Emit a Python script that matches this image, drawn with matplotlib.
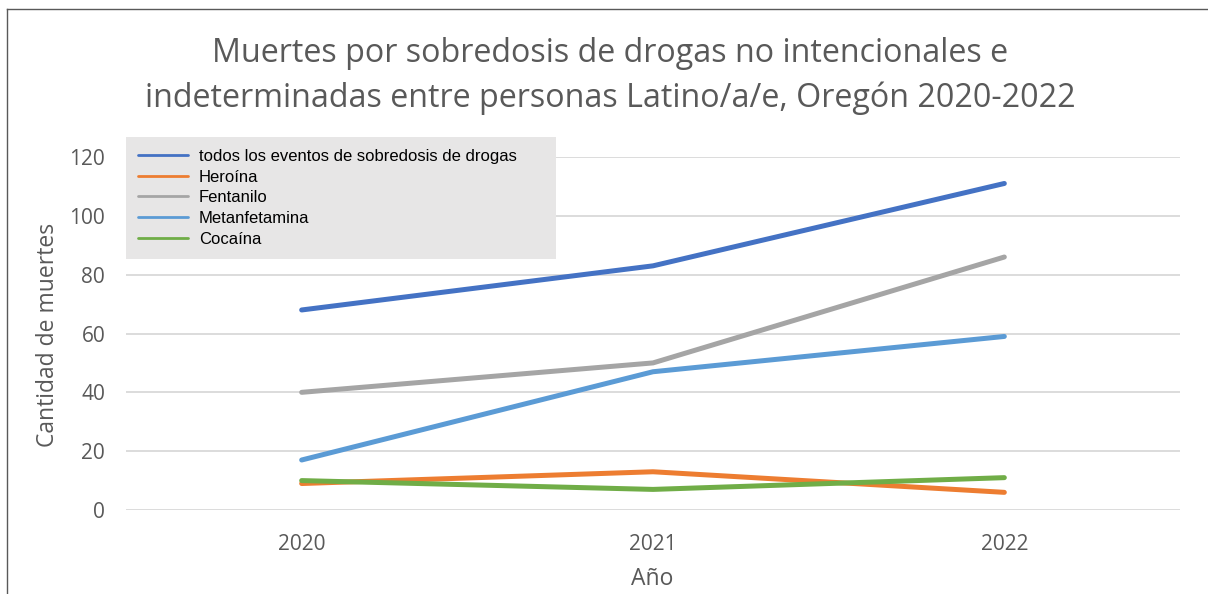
import matplotlib
matplotlib.use("Agg")
import matplotlib.pyplot as plt
from matplotlib.lines import Line2D

years = ["2020", "2021", "2022"]
series_names = ["todos los eventos de sobredosis de drogas", "Heroína", "Fentanilo",
                "Metanfetamina", "Cocaína"]
todos = [68, 83, 111]
heroina = [9, 13, 6]
fentanilo = [40, 50, 86]
metanfetamina = [17, 47, 59]
cocaina = [10, 7, 11]
colors = ["#4472C4", "#ED7D31", "#A5A5A5", "#5B9BD5", "#70AD47"]
yticks = [0, 20, 40, 60, 80, 100, 120]

title = "Muertes por sobredosis de drogas no intencionales e\nindeterminadas entre personas Latino/a/e, Oregón 2020-2022"

plt.rcParams["font.family"] = ["Open Sans", "DejaVu Sans"]

W, H = 1208, 594
fig = plt.figure(figsize=(W / 100, H / 100), dpi=100)
ax = fig.add_axes([126 / W, 1 - 510 / H, (1180 - 126) / W, (510 - 157) / H])

x = list(range(len(years)))
for vals, name, c in zip([todos, heroina, fentanilo, metanfetamina, cocaina], series_names, colors):
    ax.plot(x, vals, color=c, lw=3.6, label=name, solid_capstyle="round", solid_joinstyle="round")

ax.set_xlim(-0.5, len(years) - 0.5)
ax.set_ylim(0, 120)
ax.set_xticks(x)
ax.set_xticklabels(years)
ax.set_yticks(yticks)
ax.grid(axis="y", color="#D9D9D9", lw=1.3)
ax.set_axisbelow(True)
for s in ax.spines.values():
    s.set_visible(False)
ax.tick_params(axis="both", length=0, labelsize=15, colors="#595959")
ax.tick_params(axis="x", pad=17)
ax.tick_params(axis="y", pad=15)

ax.set_ylabel("Cantidad de muertes", fontsize=16.5, color="#595959")
ax.yaxis.set_label_coords(-0.063, 0.496)
ax.set_xlabel("Año", fontsize=16.5, color="#595959")
ax.xaxis.set_label_coords(0.499, -0.162)

leg = ax.legend(loc="upper left", bbox_to_anchor=(126 / W, 1 - 258 / H, 430 / W, 121 / H),
                bbox_transform=fig.transFigure, mode="expand", borderaxespad=0,
                prop={"family": "Liberation Sans", "size": 12}, handlelength=3.0,
                handletextpad=0.66, labelspacing=0.34, fancybox=False, framealpha=1,
                borderpad=0.72)
leg.get_frame().set_facecolor("#E7E6E6")
leg.get_frame().set_edgecolor("none")
for h in leg.get_lines():
    h.set_linewidth(2)

fig.text(610 / W, 1 - 76 / H, title, ha="center", va="center", fontsize=23.2,
         color="#595959", linespacing=1.48)

fig.add_artist(Line2D([7 / W, 7 / W], [0, 1 - 9 / H], transform=fig.transFigure, color="#595959", lw=1))
fig.add_artist(Line2D([7 / W, 1], [1 - 9 / H, 1 - 9 / H], transform=fig.transFigure, color="#595959", lw=1))

fig.savefig("out.png", dpi=100)
